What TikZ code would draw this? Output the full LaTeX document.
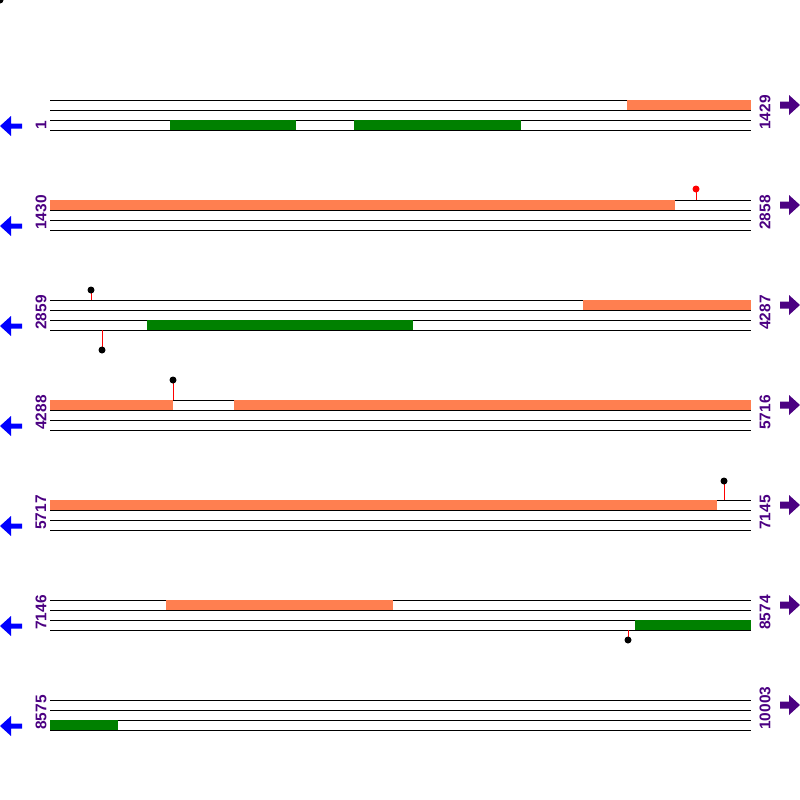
\documentclass[tikz,border=0pt]{standalone}
\usepackage{fontspec}
\setsansfont{Liberation Sans}
\definecolor{frameorange}{HTML}{FF7F50}
\definecolor{genegreen}{HTML}{008000}
\definecolor{revblue}{HTML}{0000FF}
\definecolor{fwdpurple}{HTML}{4B0082}
\begin{document}
\begin{tikzpicture}[
      x=0.25mm, y=-0.25mm,
      every node/.style={font=\sffamily\bfseries\fontsize{11}{11}\selectfont, text=fwdpurple, inner sep=0pt},
      track/.style={line width=0.7pt},
      orf/.style={fill=frameorange},
      gene/.style={fill=genegreen},
      coord/.style={rotate=90, anchor=west},
      stick/.style={red, line width=0.7pt}
    ]
      \useasboundingbox (0,0) rectangle (800,800);
      \fill (0,0) circle (3.5);

      % strands, coordinates and direction arrows
      \foreach \y/\first/\last in {100/1/1429, 200/1430/2858, 300/2859/4287, 400/4288/5716,
                                   500/5717/7145, 600/7146/8574, 700/8575/10003} {
        \foreach \d in {0,10,20,30}
          \draw[track] (50,\y+\d) -- (751,\y+\d);
        \node[coord] (first\y) at (41,\y+30) {\first};
        \node[coord] (last\y) at (765,\y+30) {\last};
        \fill[revblue] (0,\y+26) -- ++(11,-10) -- ++(0,7.5) -- ++(11,0) -- ++(0,5)
          -- ++(-11,0) -- ++(0,7.5) -- cycle;
        \fill[fwdpurple] (800,\y+5) -- ++(-11,-10) -- ++(0,6.5) -- ++(-9,0) -- ++(0,7)
          -- ++(9,0) -- ++(0,6.5) -- cycle;
      }

      % forward frame hits
      \foreach \a/\b/\y in {627/751/100, 50/675/200, 583/751/300, 50/173/400,
                            234/751/400, 50/717/500, 166/393/600}
        \fill[orf] (\a,\y) rectangle (\b,\y+10);

      % genes
      \foreach \a/\b/\y in {170/296/100, 354/521/100, 147/413/300, 635/751/600, 50/118/700}
        \fill[gene] (\a,\y+20) rectangle (\b,\y+30);

      % sites
      \foreach \x/\ya/\yb/\c in {696/200/189/red, 91/300/290/black, 102/330/350/black,
                                 173/400/380/black, 724/500/481/black, 628/630/640/black} {
        \draw[stick] (\x,\ya) -- (\x,\yb);
        \fill[\c] (\x,\yb) circle (3.5);
      }
    \end{tikzpicture}
\end{document}
